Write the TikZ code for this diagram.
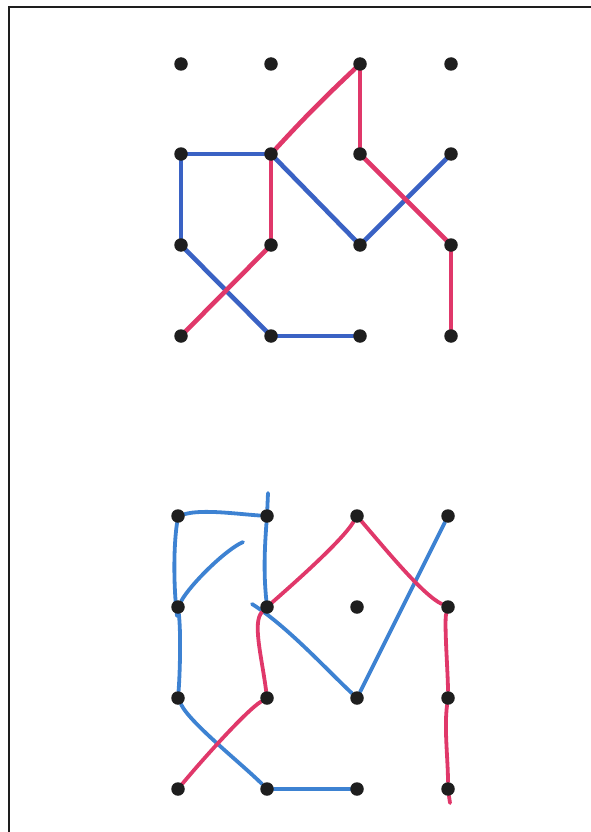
\documentclass[tikz,border=0pt]{standalone}
\usepackage{tikz}
\usetikzlibrary{backgrounds}
\definecolor{noir}{HTML}{1E1E1E}
\definecolor{rouge}{HTML}{E0386A}
\definecolor{bleu}{HTML}{3A62C4}
\definecolor{bleuclair}{HTML}{3D82D2}
\tikzset{
  point/.style={circle,fill=noir,inner sep=0pt,minimum size=13.5pt},
  trait/.style={line width=4.6pt,line cap=round},
}
\begin{document}
\begin{tikzpicture}[x=1pt,y=-1pt,
  tr/.style={trait,draw=rouge},
  tb/.style={trait,draw=bleu},
  tc/.style={trait,draw=bleuclair,line width=3.8pt},
  tr2/.style={trait,draw=rouge,line width=3.8pt}]
  \useasboundingbox (0,0) rectangle (591,832);
  \draw[line width=2.5pt,draw=noir] (9,832) -- (9,7) -- (591,7);
  % grilles de points
  \foreach \c/\x in {0/181,1/271,2/360,3/451}
    \foreach \r/\y in {0/64,1/154,2/245,3/336}
      \node[point] (h\c\r) at (\x,\y) {};
  \foreach \c/\x in {0/178,1/267,2/357,3/448}
    \foreach \r/\y in {0/516,1/607,2/698,3/789}
      \node[point] (b\c\r) at (\x,\y) {};
  \coordinate (hautb1) at (268,493);
  \coordinate (basb0) at (177,616);
  \coordinate (libre) at (243,542);
  \coordinate (gaucheb1) at (252,604);
  \coordinate (basb3) at (450,803);
  \begin{scope}[on background layer]
    % figure du haut
    \foreach \a/\b in {h01/h11,h01/h02,h11/h22,h22/h31,h02/h13,h13/h23}
      \draw[tb] (\a) -- (\b);
    \draw[tr] (h20) to[bend right=2] (h11);
    \foreach \a/\b in {h20/h21,h11/h12,h21/h32,h32/h33,h12/h03}
      \draw[tr] (\a) -- (\b);
    % figure du bas
    \draw[tc] (b00) .. controls +(25,-7) and +(-30,-2) .. (b10);
    \draw[tc] (hautb1) -- (b10) .. controls +(-3,40) and +(-3,-30) .. (b11);
    \draw[tc] (b00) .. controls +(-5,35) and +(-3,-25) .. (basb0);
    \draw[tc] (b01) .. controls +(12,-22) and +(-18,8) .. (libre);
    \draw[tc] (b01) .. controls +(3,25) and +(2,-25) .. (b02);
    \draw[tc] (b02) .. controls +(12,25) and +(-25,-25) .. (b13);
    \draw[tc] (gaucheb1) .. controls +(35,22) and +(-30,-28) .. (b22);
    \draw[tc] (b22) -- (b30);
    \draw[tc] (b13) -- (b23);
    \draw[tr2] (b11) .. controls +(25,-22) and +(-15,25) .. (b20);
    \draw[tr2] (b20) .. controls +(30,35) and +(-25,-12) .. (b31);
    \draw[tr2] (b11) .. controls +(-15,15) and +(-5,-40) .. (b12);
    \draw[tr2] (b31) .. controls +(-4,15) and +(0,-25) .. (b32);
    \draw[tr2] (b32) .. controls +(-4,30) and +(0,-30) .. (b33) -- (basb3);
    \draw[tr2] (b12) .. controls +(-20,12) and +(25,-30) .. (b03);
  \end{scope}
\end{tikzpicture}
\end{document}
